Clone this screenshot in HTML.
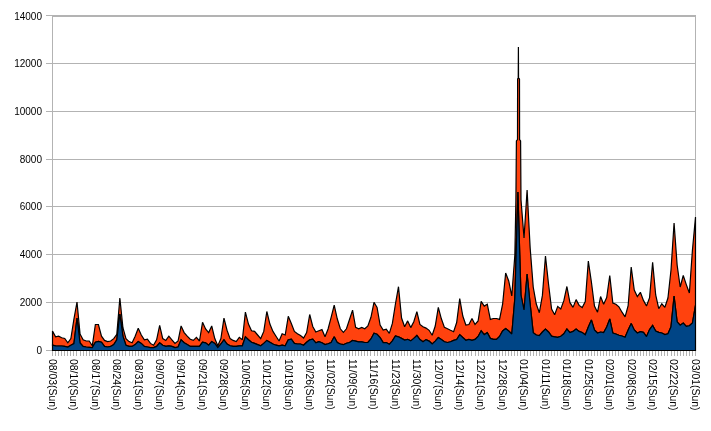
<!DOCTYPE html><html><head><meta charset="utf-8"><style>html,body{margin:0;padding:0;background:#fff;}svg{display:block;}text{font-family:"Liberation Sans",sans-serif;font-size:10px;fill:#000;}</style></head><body>
<svg width="711" height="431" viewBox="0 0 711 431">
<rect x="0" y="0" width="711" height="431" fill="#fff"/>
<defs><filter id="crisp" x="0" y="0" width="100%" height="100%"><feComponentTransfer><feFuncA type="linear" slope="1" intercept="0"/></feComponentTransfer></filter></defs>
<line x1="46" y1="350.5" x2="696" y2="350.5" stroke="#b3b3b3" stroke-width="1"/>
<line x1="46" y1="302.5" x2="696" y2="302.5" stroke="#b3b3b3" stroke-width="1"/>
<line x1="46" y1="254.5" x2="696" y2="254.5" stroke="#b3b3b3" stroke-width="1"/>
<line x1="46" y1="206.5" x2="696" y2="206.5" stroke="#b3b3b3" stroke-width="1"/>
<line x1="46" y1="159.5" x2="696" y2="159.5" stroke="#b3b3b3" stroke-width="1"/>
<line x1="46" y1="111.5" x2="696" y2="111.5" stroke="#b3b3b3" stroke-width="1"/>
<line x1="46" y1="63.5" x2="696" y2="63.5" stroke="#b3b3b3" stroke-width="1"/>
<line x1="46" y1="15.5" x2="696" y2="15.5" stroke="#b3b3b3" stroke-width="1"/>
<line x1="52" y1="16.5" x2="696" y2="16.5" stroke="#b3b3b3" stroke-width="1"/>
<line x1="52.5" y1="16" x2="52.5" y2="351" stroke="#b3b3b3" stroke-width="1"/>
<line x1="695.5" y1="16" x2="695.5" y2="351" stroke="#b3b3b3" stroke-width="1"/>
<path d="M52.5 351V356 M55.5 351V356 M58.5 351V356 M61.5 351V356 M64.5 351V356 M67.5 351V356 M70.5 351V356 M73.5 351V356 M76.5 351V356 M80.5 351V356 M83.5 351V356 M86.5 351V356 M89.5 351V356 M92.5 351V356 M95.5 351V356 M98.5 351V356 M101.5 351V356 M104.5 351V356 M107.5 351V356 M110.5 351V356 M113.5 351V356 M116.5 351V356 M119.5 351V356 M122.5 351V356 M125.5 351V356 M129.5 351V356 M132.5 351V356 M135.5 351V356 M138.5 351V356 M141.5 351V356 M144.5 351V356 M147.5 351V356 M150.5 351V356 M153.5 351V356 M156.5 351V356 M159.5 351V356 M162.5 351V356 M165.5 351V356 M168.5 351V356 M171.5 351V356 M174.5 351V356 M178.5 351V356 M181.5 351V356 M184.5 351V356 M187.5 351V356 M190.5 351V356 M193.5 351V356 M196.5 351V356 M199.5 351V356 M202.5 351V356 M205.5 351V356 M208.5 351V356 M211.5 351V356 M214.5 351V356 M217.5 351V356 M220.5 351V356 M223.5 351V356 M227.5 351V356 M230.5 351V356 M233.5 351V356 M236.5 351V356 M239.5 351V356 M242.5 351V356 M245.5 351V356 M248.5 351V356 M251.5 351V356 M254.5 351V356 M257.5 351V356 M260.5 351V356 M263.5 351V356 M266.5 351V356 M269.5 351V356 M272.5 351V356 M276.5 351V356 M279.5 351V356 M282.5 351V356 M285.5 351V356 M288.5 351V356 M291.5 351V356 M294.5 351V356 M297.5 351V356 M300.5 351V356 M303.5 351V356 M306.5 351V356 M309.5 351V356 M312.5 351V356 M315.5 351V356 M318.5 351V356 M321.5 351V356 M325.5 351V356 M328.5 351V356 M331.5 351V356 M334.5 351V356 M337.5 351V356 M340.5 351V356 M343.5 351V356 M346.5 351V356 M349.5 351V356 M352.5 351V356 M355.5 351V356 M358.5 351V356 M361.5 351V356 M364.5 351V356 M367.5 351V356 M370.5 351V356 M374.5 351V356 M377.5 351V356 M380.5 351V356 M383.5 351V356 M386.5 351V356 M389.5 351V356 M392.5 351V356 M395.5 351V356 M398.5 351V356 M401.5 351V356 M404.5 351V356 M407.5 351V356 M410.5 351V356 M413.5 351V356 M416.5 351V356 M419.5 351V356 M422.5 351V356 M426.5 351V356 M429.5 351V356 M432.5 351V356 M435.5 351V356 M438.5 351V356 M441.5 351V356 M444.5 351V356 M447.5 351V356 M450.5 351V356 M453.5 351V356 M456.5 351V356 M459.5 351V356 M462.5 351V356 M465.5 351V356 M468.5 351V356 M471.5 351V356 M475.5 351V356 M478.5 351V356 M481.5 351V356 M484.5 351V356 M487.5 351V356 M490.5 351V356 M493.5 351V356 M496.5 351V356 M499.5 351V356 M502.5 351V356 M505.5 351V356 M508.5 351V356 M511.5 351V356 M514.5 351V356 M517.5 351V356 M520.5 351V356 M524.5 351V356 M527.5 351V356 M530.5 351V356 M533.5 351V356 M536.5 351V356 M539.5 351V356 M542.5 351V356 M545.5 351V356 M548.5 351V356 M551.5 351V356 M554.5 351V356 M557.5 351V356 M560.5 351V356 M563.5 351V356 M566.5 351V356 M569.5 351V356 M573.5 351V356 M576.5 351V356 M579.5 351V356 M582.5 351V356 M585.5 351V356 M588.5 351V356 M591.5 351V356 M594.5 351V356 M597.5 351V356 M600.5 351V356 M603.5 351V356 M606.5 351V356 M609.5 351V356 M612.5 351V356 M615.5 351V356 M618.5 351V356 M622.5 351V356 M625.5 351V356 M628.5 351V356 M631.5 351V356 M634.5 351V356 M637.5 351V356 M640.5 351V356 M643.5 351V356 M646.5 351V356 M649.5 351V356 M652.5 351V356 M655.5 351V356 M658.5 351V356 M661.5 351V356 M664.5 351V356 M667.5 351V356 M671.5 351V356 M674.5 351V356 M677.5 351V356 M680.5 351V356 M683.5 351V356 M686.5 351V356 M689.5 351V356 M692.5 351V356 M695.5 351V356" stroke="#b3b3b3" stroke-width="1" fill="none"/>
<polygon points="52.50,331.00 55.56,336.80 58.62,336.20 61.69,337.80 64.75,338.50 67.81,342.80 70.87,338.60 73.93,319.00 77.00,302.00 80.06,334.00 83.12,339.80 86.18,341.00 89.24,341.00 92.30,345.80 95.37,324.50 98.43,324.50 101.49,336.20 104.55,340.40 107.61,341.60 110.68,341.00 113.74,338.60 116.80,334.40 119.86,298.00 122.92,327.70 125.99,338.60 129.05,341.60 132.11,342.80 135.17,336.20 138.23,328.30 141.30,335.00 144.36,339.80 147.42,339.20 150.48,343.40 153.54,345.20 156.60,339.80 159.67,325.30 162.73,338.60 165.79,340.40 168.85,336.20 171.91,339.80 174.98,343.40 178.04,341.00 181.10,325.90 184.16,332.60 187.22,336.20 190.29,339.20 193.35,340.40 196.41,337.40 199.47,341.00 202.53,322.30 205.60,329.00 208.66,332.60 211.72,326.00 214.78,338.60 217.84,345.80 220.90,338.60 223.97,318.10 227.03,330.20 230.09,338.60 233.15,340.40 236.21,341.60 239.28,337.40 242.34,339.80 245.40,312.10 248.46,324.10 251.52,330.80 254.59,331.40 257.65,335.00 260.71,338.60 263.77,331.40 266.83,311.50 269.90,324.10 272.96,331.40 276.02,336.20 279.08,341.00 282.14,333.80 285.20,335.00 288.27,316.30 291.33,323.50 294.39,331.40 297.45,333.80 300.51,335.60 303.58,338.00 306.64,332.60 309.70,314.50 312.76,326.50 315.82,332.00 318.89,330.80 321.95,329.60 325.01,336.80 328.07,329.00 331.13,317.30 334.20,305.10 337.26,318.80 340.32,328.80 343.38,332.40 346.44,328.80 349.50,319.50 352.57,310.10 355.63,327.40 358.69,328.80 361.75,327.40 364.81,328.80 367.88,326.00 370.94,317.30 374.00,302.30 377.06,307.50 380.12,325.00 383.19,330.00 386.25,329.20 389.31,333.40 392.37,323.40 395.43,304.00 398.50,286.70 401.56,318.00 404.62,326.70 407.68,320.90 410.74,327.60 413.80,321.70 416.87,311.60 419.93,324.50 422.99,326.70 426.05,328.10 429.11,330.30 432.18,335.30 435.24,326.00 438.30,307.30 441.36,318.80 444.42,327.40 447.49,328.80 450.55,330.30 453.61,331.70 456.67,322.50 459.73,298.60 462.80,316.00 465.86,325.00 468.92,324.50 471.98,318.50 475.04,324.50 478.10,321.00 481.17,301.40 484.23,306.10 487.29,304.20 490.35,319.40 493.41,318.50 496.48,318.50 499.54,319.40 502.60,304.20 505.66,273.00 508.72,281.00 511.79,296.00 514.85,255.00 515.90,200.00 516.40,141.00 517.50,139.50 517.60,79.00 518.25,78.00 518.40,47.00 518.55,78.00 519.50,79.00 519.60,139.50 520.60,141.00 521.00,200.00 524.03,238.00 527.10,190.00 530.16,248.00 533.22,287.00 536.28,304.00 539.34,312.70 542.40,295.40 545.47,256.00 548.53,284.00 551.59,309.00 554.65,314.70 557.71,306.40 560.78,309.00 563.84,300.70 566.90,286.50 569.96,302.70 573.02,307.40 576.09,299.60 579.15,305.40 582.21,307.60 585.27,301.60 588.33,261.00 591.40,282.00 594.46,306.00 597.52,312.20 600.58,296.50 603.64,304.30 606.70,297.60 609.77,275.50 612.83,303.00 615.89,304.30 618.95,306.90 622.01,312.20 625.08,316.80 628.14,305.60 631.20,267.00 634.26,290.00 637.32,296.50 640.39,292.30 643.45,300.40 646.51,306.00 649.57,297.60 652.63,262.20 655.70,295.00 658.76,308.70 661.82,303.80 664.88,307.30 667.94,298.00 671.00,270.00 674.07,223.00 677.13,265.00 680.19,287.00 683.25,275.50 686.31,284.60 689.38,293.00 692.44,250.00 695.50,217.00 695.50,305.00 692.44,323.00 689.38,325.80 686.31,326.40 683.25,323.00 680.19,325.20 677.13,321.80 674.07,296.00 671.00,326.80 667.94,333.80 664.88,334.50 661.82,333.00 658.76,332.40 655.70,331.00 652.63,325.40 649.57,329.60 646.51,336.60 643.45,332.40 640.39,331.70 637.32,333.00 634.26,330.00 631.20,323.40 628.14,330.00 625.08,337.30 622.01,336.00 618.95,335.30 615.89,334.00 612.83,333.00 609.77,319.00 606.70,327.00 603.64,332.50 600.58,332.00 597.52,333.00 594.46,330.00 591.40,320.00 588.33,327.00 585.27,334.70 582.21,332.50 579.15,331.40 576.09,329.00 573.02,331.40 569.96,332.60 566.90,329.00 563.84,333.80 560.78,336.20 557.71,337.40 554.65,336.80 551.59,336.20 548.53,332.00 545.47,329.00 542.40,332.00 539.34,335.60 536.28,335.00 533.22,332.60 530.16,304.00 527.10,274.00 524.03,310.00 520.97,295.00 517.91,192.00 514.85,298.00 511.79,334.00 508.72,331.00 505.66,328.50 502.60,331.00 499.54,336.50 496.48,339.40 493.41,339.40 490.35,338.40 487.29,332.70 484.23,334.60 481.17,330.80 478.10,336.50 475.04,339.40 471.98,340.30 468.92,339.40 465.86,340.30 462.80,337.50 459.73,334.60 456.67,339.60 453.61,340.40 450.55,341.80 447.49,342.50 444.42,341.80 441.36,339.60 438.30,337.50 435.24,341.10 432.18,344.00 429.11,341.10 426.05,339.60 422.99,341.80 419.93,339.60 416.87,335.50 413.80,338.40 410.74,340.90 407.68,339.30 404.62,340.10 401.56,338.40 398.50,336.80 395.43,335.90 392.37,340.90 389.31,344.30 386.25,342.60 383.19,342.60 380.12,337.60 377.06,334.30 374.00,333.30 370.94,339.00 367.88,342.50 364.81,342.50 361.75,341.80 358.69,341.80 355.63,341.10 352.57,340.40 349.50,342.50 346.44,343.20 343.38,344.70 340.32,344.00 337.26,342.50 334.20,336.80 331.13,342.50 328.07,343.80 325.01,344.60 321.95,342.80 318.89,341.60 315.82,342.80 312.76,339.20 309.70,339.80 306.64,342.20 303.58,345.20 300.51,344.00 297.45,344.00 294.39,343.40 291.33,339.20 288.27,339.80 285.20,345.80 282.14,345.20 279.08,345.80 276.02,345.20 272.96,344.00 269.90,342.20 266.83,340.40 263.77,343.40 260.71,345.80 257.65,344.60 254.59,343.40 251.52,342.20 248.46,339.80 245.40,336.80 242.34,345.80 239.28,345.80 236.21,346.40 233.15,346.40 230.09,345.80 227.03,344.00 223.97,339.80 220.90,344.00 217.84,347.60 214.78,343.40 211.72,341.60 208.66,345.20 205.60,342.80 202.53,342.20 199.47,346.40 196.41,346.40 193.35,346.40 190.29,346.40 187.22,344.60 184.16,342.80 181.10,339.80 178.04,347.00 174.98,347.60 171.91,346.40 168.85,345.80 165.79,346.40 162.73,345.20 159.67,342.80 156.60,346.40 153.54,347.60 150.48,347.60 147.42,347.00 144.36,346.40 141.30,343.40 138.23,341.60 135.17,344.60 132.11,346.40 129.05,346.40 125.99,345.20 122.92,336.20 119.86,314.00 116.80,339.80 113.74,344.60 110.68,346.40 107.61,347.00 104.55,346.40 101.49,342.20 98.43,341.30 95.37,342.20 92.30,347.60 89.24,347.30 86.18,347.00 83.12,346.40 80.06,343.00 77.00,318.00 73.93,343.50 70.87,345.20 67.81,347.00 64.75,346.40 61.69,346.00 58.62,346.00 55.56,345.80 52.50,345.20" fill="#ff420e" stroke="#000" stroke-width="1.2" stroke-linejoin="miter" stroke-miterlimit="2"/>
<polygon points="52.50,345.20 55.56,345.80 58.62,346.00 61.69,346.00 64.75,346.40 67.81,347.00 70.87,345.20 73.93,343.50 77.00,318.00 80.06,343.00 83.12,346.40 86.18,347.00 89.24,347.30 92.30,347.60 95.37,342.20 98.43,341.30 101.49,342.20 104.55,346.40 107.61,347.00 110.68,346.40 113.74,344.60 116.80,339.80 119.86,314.00 122.92,336.20 125.99,345.20 129.05,346.40 132.11,346.40 135.17,344.60 138.23,341.60 141.30,343.40 144.36,346.40 147.42,347.00 150.48,347.60 153.54,347.60 156.60,346.40 159.67,342.80 162.73,345.20 165.79,346.40 168.85,345.80 171.91,346.40 174.98,347.60 178.04,347.00 181.10,339.80 184.16,342.80 187.22,344.60 190.29,346.40 193.35,346.40 196.41,346.40 199.47,346.40 202.53,342.20 205.60,342.80 208.66,345.20 211.72,341.60 214.78,343.40 217.84,347.60 220.90,344.00 223.97,339.80 227.03,344.00 230.09,345.80 233.15,346.40 236.21,346.40 239.28,345.80 242.34,345.80 245.40,336.80 248.46,339.80 251.52,342.20 254.59,343.40 257.65,344.60 260.71,345.80 263.77,343.40 266.83,340.40 269.90,342.20 272.96,344.00 276.02,345.20 279.08,345.80 282.14,345.20 285.20,345.80 288.27,339.80 291.33,339.20 294.39,343.40 297.45,344.00 300.51,344.00 303.58,345.20 306.64,342.20 309.70,339.80 312.76,339.20 315.82,342.80 318.89,341.60 321.95,342.80 325.01,344.60 328.07,343.80 331.13,342.50 334.20,336.80 337.26,342.50 340.32,344.00 343.38,344.70 346.44,343.20 349.50,342.50 352.57,340.40 355.63,341.10 358.69,341.80 361.75,341.80 364.81,342.50 367.88,342.50 370.94,339.00 374.00,333.30 377.06,334.30 380.12,337.60 383.19,342.60 386.25,342.60 389.31,344.30 392.37,340.90 395.43,335.90 398.50,336.80 401.56,338.40 404.62,340.10 407.68,339.30 410.74,340.90 413.80,338.40 416.87,335.50 419.93,339.60 422.99,341.80 426.05,339.60 429.11,341.10 432.18,344.00 435.24,341.10 438.30,337.50 441.36,339.60 444.42,341.80 447.49,342.50 450.55,341.80 453.61,340.40 456.67,339.60 459.73,334.60 462.80,337.50 465.86,340.30 468.92,339.40 471.98,340.30 475.04,339.40 478.10,336.50 481.17,330.80 484.23,334.60 487.29,332.70 490.35,338.40 493.41,339.40 496.48,339.40 499.54,336.50 502.60,331.00 505.66,328.50 508.72,331.00 511.79,334.00 514.85,298.00 517.91,192.00 520.97,295.00 524.03,310.00 527.10,274.00 530.16,304.00 533.22,332.60 536.28,335.00 539.34,335.60 542.40,332.00 545.47,329.00 548.53,332.00 551.59,336.20 554.65,336.80 557.71,337.40 560.78,336.20 563.84,333.80 566.90,329.00 569.96,332.60 573.02,331.40 576.09,329.00 579.15,331.40 582.21,332.50 585.27,334.70 588.33,327.00 591.40,320.00 594.46,330.00 597.52,333.00 600.58,332.00 603.64,332.50 606.70,327.00 609.77,319.00 612.83,333.00 615.89,334.00 618.95,335.30 622.01,336.00 625.08,337.30 628.14,330.00 631.20,323.40 634.26,330.00 637.32,333.00 640.39,331.70 643.45,332.40 646.51,336.60 649.57,329.60 652.63,325.40 655.70,331.00 658.76,332.40 661.82,333.00 664.88,334.50 667.94,333.80 671.00,326.80 674.07,296.00 677.13,321.80 680.19,325.20 683.25,323.00 686.31,326.40 689.38,325.80 692.44,323.00 695.50,305.00 695.50,350.5 52.50,350.5" fill="#004586" stroke="#000" stroke-width="1.2" stroke-linejoin="miter" stroke-miterlimit="2"/>
<g filter="url(#crisp)">
<text x="42" y="354.1" text-anchor="end">0</text>
<text x="42" y="306.1" text-anchor="end">2000</text>
<text x="42" y="258.1" text-anchor="end">4000</text>
<text x="42" y="210.1" text-anchor="end">6000</text>
<text x="42" y="163.1" text-anchor="end">8000</text>
<text x="42" y="115.1" text-anchor="end">10000</text>
<text x="42" y="67.1" text-anchor="end">12000</text>
<text x="42" y="19.9" text-anchor="end">14000</text>
<text transform="translate(48.80,359) rotate(90)" style="font-size:10.4px">08/03(Sun)</text>
<text transform="translate(70.23,359) rotate(90)" style="font-size:10.4px">08/10(Sun)</text>
<text transform="translate(91.67,359) rotate(90)" style="font-size:10.4px">08/17(Sun)</text>
<text transform="translate(113.10,359) rotate(90)" style="font-size:10.4px">08/24(Sun)</text>
<text transform="translate(134.53,359) rotate(90)" style="font-size:10.4px">08/31(Sun)</text>
<text transform="translate(155.97,359) rotate(90)" style="font-size:10.4px">09/07(Sun)</text>
<text transform="translate(177.40,359) rotate(90)" style="font-size:10.4px">09/14(Sun)</text>
<text transform="translate(198.83,359) rotate(90)" style="font-size:10.4px">09/21(Sun)</text>
<text transform="translate(220.27,359) rotate(90)" style="font-size:10.4px">09/28(Sun)</text>
<text transform="translate(241.70,359) rotate(90)" style="font-size:10.4px">10/05(Sun)</text>
<text transform="translate(263.13,359) rotate(90)" style="font-size:10.4px">10/12(Sun)</text>
<text transform="translate(284.57,359) rotate(90)" style="font-size:10.4px">10/19(Sun)</text>
<text transform="translate(306.00,359) rotate(90)" style="font-size:10.4px">10/26(Sun)</text>
<text transform="translate(327.43,359) rotate(90)" style="font-size:10.4px">11/02(Sun)</text>
<text transform="translate(348.87,359) rotate(90)" style="font-size:10.4px">11/09(Sun)</text>
<text transform="translate(370.30,359) rotate(90)" style="font-size:10.4px">11/16(Sun)</text>
<text transform="translate(391.73,359) rotate(90)" style="font-size:10.4px">11/23(Sun)</text>
<text transform="translate(413.17,359) rotate(90)" style="font-size:10.4px">11/30(Sun)</text>
<text transform="translate(434.60,359) rotate(90)" style="font-size:10.4px">12/07(Sun)</text>
<text transform="translate(456.03,359) rotate(90)" style="font-size:10.4px">12/14(Sun)</text>
<text transform="translate(477.47,359) rotate(90)" style="font-size:10.4px">12/21(Sun)</text>
<text transform="translate(498.90,359) rotate(90)" style="font-size:10.4px">12/28(Sun)</text>
<text transform="translate(520.33,359) rotate(90)" style="font-size:10.4px">01/04(Sun)</text>
<text transform="translate(541.77,359) rotate(90)" style="font-size:10.4px">01/11(Sun)</text>
<text transform="translate(563.20,359) rotate(90)" style="font-size:10.4px">01/18(Sun)</text>
<text transform="translate(584.63,359) rotate(90)" style="font-size:10.4px">01/25(Sun)</text>
<text transform="translate(606.07,359) rotate(90)" style="font-size:10.4px">02/01(Sun)</text>
<text transform="translate(627.50,359) rotate(90)" style="font-size:10.4px">02/08(Sun)</text>
<text transform="translate(648.93,359) rotate(90)" style="font-size:10.4px">02/15(Sun)</text>
<text transform="translate(670.37,359) rotate(90)" style="font-size:10.4px">02/22(Sun)</text>
<text transform="translate(691.80,359) rotate(90)" style="font-size:10.4px">03/01(Sun)</text>
</g>
</svg></body></html>
